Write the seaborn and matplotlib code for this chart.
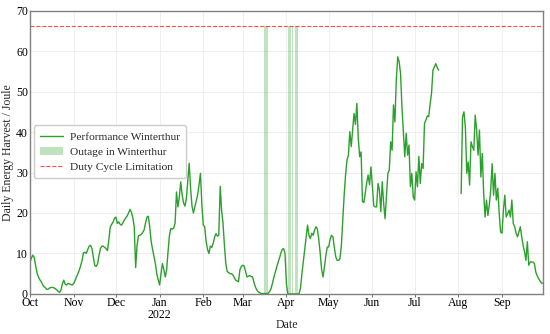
import matplotlib
matplotlib.use("Agg")
import matplotlib.pyplot as plt
import matplotlib.dates as mdates
import matplotlib.ticker as ticker
from matplotlib.lines import Line2D
from matplotlib.patches import Patch
import seaborn as sns
import numpy as np
import pandas as pd

nan = np.nan

# daily energy harvest in Winterthur, Oct 2021 - Sep 2022 (Joule)
oct_21 = [7.9, 8.8, 9.6, 9.0, 7.0, 5.2, 4.2, 3.5, 3.0, 2.3, 1.8, 1.5, 1.1, 1.2, 1.5, 1.6,
          1.6, 1.5, 1.3, 1.0, 0.6, 0.4, 1.0, 2.5, 3.4, 2.4, 2.2, 2.6, 2.5, 2.3, 2.2]
nov_21 = [2.6, 3.3, 4.2, 5.0, 5.9, 7.0, 8.3, 10.2, 10.3, 10.0, 11.0, 11.8, 12.0, 11.2, 9.0,
          7.0, 6.8, 7.5, 9.5, 11.2, 11.8, 11.8, 11.5, 11.2, 10.7, 13.5, 16.6, 17.2, 17.8, 18.7]
dec_21 = [19.0, 17.4, 17.8, 17.2, 17.0, 17.6, 18.3, 18.8, 19.3, 20.0, 20.9, 20.2, 18.8, 16.6,
          6.5, 12.0, 14.4, 14.5, 14.7, 15.2, 15.8, 17.5, 19.0, 19.2, 16.5, 13.0, 11.0, 9.2,
          7.5, 5.0, 3.5]
jan_22 = [2.2, 5.0, 7.5, 6.0, 4.2, 6.0, 10.5, 14.5, 16.2, 16.0, 16.3, 17.5, 25.2, 21.5, 24.0,
          27.7, 24.5, 22.5, 21.7, 23.6, 28.0, 32.3, 26.0, 21.7, 20.0, 21.5, 23.0, 24.5, 27.0,
          29.8, 22.0]
feb_22 = [17.0, 16.6, 13.0, 11.0, 10.0, 11.8, 11.5, 12.5, 14.0, 14.9, 14.3, 14.5, 26.6, 20.7,
          17.5, 12.0, 7.5, 5.5, 5.3, 5.0, 5.0, 4.7, 4.0, 3.4, 3.2, 3.0, 6.0, 6.8]
mar_22 = [7.1, 6.9, 5.5, 4.2, 4.4, 4.5, 4.3, 4.2, 2.8, 1.7, 1.0, 0.5, 0.3, 0.1, 0.1, 0.1,
          0.1, 0.1, 0.1, 0.6, 1.2, 2.5, 4.0, 5.3, 6.5, 7.7, 8.8, 10.0, 11.0, 11.2, 10.0]
apr_22 = [2.6, 0.0, 0.0, 0.0, 0.0, 0.0, 0.0, 0.0, 0.0, 0.0, 1.5, 5.0, 8.0, 10.8, 14.0, 17.0,
          14.5, 13.7, 15.0, 14.5, 15.8, 16.6, 16.0, 13.4, 10.0, 6.0, 4.2, 6.7, 9.5, 11.6]
may_22 = [11.6, 13.5, 14.5, 14.1, 11.5, 9.2, 8.3, 8.3, 8.7, 12.0, 18.5, 24.5, 29.5, 33.1, 34.3,
          40.1, 36.4, 40.4, 44.6, 41.9, 47.1, 38.5, 33.9, 35.1, 22.8, 22.6, 25.0, 27.5, 29.4,
          27.0, 31.4]
jun_22 = [26.5, 21.8, 21.5, 21.5, 27.3, 25.7, 20.3, 27.7, 22.4, 18.6, 24.0, 29.8, 30.6, 37.6,
          35.5, 46.7, 42.5, 52.9, 58.6, 57.4, 54.5, 46.2, 40.0, 33.9, 39.7, 34.3, 36.8, 26.5,
          29.8, 24.0]
jul_22 = [23.2, 30.2, 26.5, 34.0, 27.3, 32.2, 31.0, 42.1, 43.0, 44.0, 43.8, 47.0, 49.6, 55.3,
          56.1, 56.9, 56.0, 55.3, nan, nan, nan, nan, nan, nan, nan, nan, nan, nan, nan, nan, nan]
aug_22 = [nan, nan, 24.8, 43.8, 45.0, 41.3, 29.8, 32.6, 26.9, 37.6, 36.4, 35.5, 44.2, 40.5, 34.3,
          40.5, 28.9, 34.7, 24.8, 19.0, 23.2, 19.4, 22.0, 25.7, 32.2, 24.4, 29.8, 23.2, 26.1,
          20.0, 15.3]
sep_22 = [15.0, 20.7, 24.4, 19.0, 19.8, 20.7, 19.0, 23.2, 17.4, 16.6, 15.0, 14.1, 15.3, 16.6,
          14.1, 12.0, 10.4, 8.3, 12.9, 7.1, 7.9, 7.9, 7.9, 7.5, 5.4, 4.5, 3.8, 3.2, 2.7, 2.6]

outages = [("2022-03-16", "2022-03-19"), ("2022-04-02", "2022-04-04"),
           ("2022-04-05", "2022-04-06"), ("2022-04-07", "2022-04-09")]
duty_cycle_limit = 66.3

energy = (oct_21 + nov_21 + dec_21 + jan_22 + feb_22 + mar_22 + apr_22 + may_22
          + jun_22 + jul_22 + aug_22 + sep_22)
df = pd.DataFrame({"date": pd.date_range("2021-10-01", periods=len(energy), freq="D"),
                   "energy": energy})
df = df.dropna()
# separate runs so the gap in Jul/Aug is not bridged
df["segment"] = (df["date"].diff() > pd.Timedelta(days=1)).cumsum()

# Plot properties
sns.set_theme(style="whitegrid")
plt.rcParams["font.family"] = ["Liberation Serif", "DejaVu Serif"]
green = "#2ca02c"

fig, ax = plt.subplots(figsize=(5.5, 3.34), dpi=100)
fig.subplots_adjust(left=0.0545, right=0.987, top=0.968, bottom=0.12)

for start, end in outages:
    ax.fill_between([pd.Timestamp(start), pd.Timestamp(end)], 0, duty_cycle_limit,
                    color=green, alpha=0.3, linewidth=0)

sns.lineplot(data=df, x="date", y="energy", units="segment", estimator=None,
             color=green, linewidth=1, ax=ax)
ax.axhline(duty_cycle_limit, color="red", linestyle="--", linewidth=0.8, alpha=0.7)

ax.set_xlim(pd.Timestamp("2021-10-01"), pd.Timestamp("2022-09-30"))
ax.set_ylim(0, 70)
ax.set_yticks(range(0, 71, 10))

ax.xaxis.set_major_locator(mdates.MonthLocator())
def month_label(x, pos):
    d = mdates.num2date(x)
    return d.strftime("%b\n%Y") if d.month == 1 else d.strftime("%b")
ax.xaxis.set_major_formatter(ticker.FuncFormatter(month_label))

ax.tick_params(axis="both", labelsize=8.5, colors="black")
ax.tick_params(axis="y", length=0, pad=1.5)
ax.tick_params(axis="x", length=2, width=0.6, color="#555555", bottom=True, pad=0.5)
ax.set_xlabel("Date", fontsize=8.5)
ax.xaxis.set_label_coords(0.5, -0.09)
ax.set_ylabel("Daily Energy Harvest / Joule", fontsize=8.5, labelpad=1.5)
ax.grid(color="#ececec", linewidth=0.6)
for spine in ax.spines.values():
    spine.set_color("#808080")
    spine.set_linewidth(1)

handles = [Line2D([], [], color=green, linewidth=1),
           Patch(facecolor=green, alpha=0.3, linewidth=0),
           Line2D([], [], color="red", linestyle="--", linewidth=0.8, alpha=0.7)]
labels = ["Performance Winterthur", "Outage in Winterthur", "Duty Cycle Limitation"]
ax.legend(handles, labels, loc="upper left", bbox_to_anchor=(0.008, 0.595),
          borderaxespad=0, fontsize=8.2, frameon=True, framealpha=1, edgecolor="#cccccc",
          fancybox=True, labelspacing=0.45, borderpad=0.55, handletextpad=0.6)

fig.canvas.draw()
for lbl in ax.get_xticklabels():
    lbl.set_linespacing(0.95)

fig.savefig("out.png", dpi=100)
